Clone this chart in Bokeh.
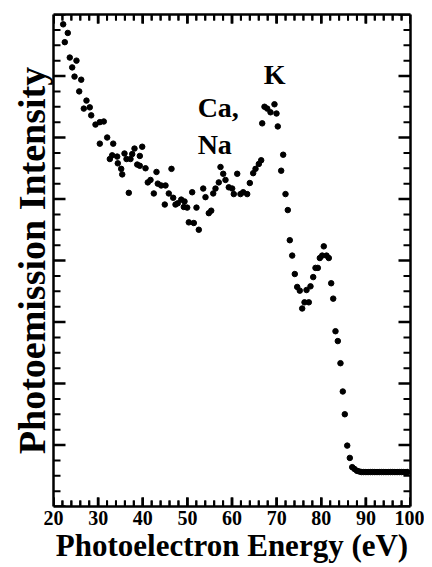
from bokeh.plotting import figure
from bokeh.models import LinearAxis, FixedTicker, Range1d, Label
from bokeh.embed import file_html
from bokeh.resources import INLINE

# Photoelectron energy (eV) and photoemission intensity (arb. units)
energy = [22.17, 23.20, 22.53, 23.65, 25.15, 24.19, 24.71, 26.21, 25.76, 27.39,
          26.79, 28.13, 28.45, 29.41, 30.38, 31.27, 32.03, 30.38, 33.38, 32.62,
          33.15, 34.27, 34.41, 35.17, 35.40, 35.91, 36.36, 37.25, 37.64, 38.15,
          39.88, 39.34, 38.76, 39.34, 40.62, 36.87, 41.13, 41.74, 43.08, 43.37,
          42.48, 44.13, 45.10, 45.84, 46.44, 44.94, 46.82, 47.34, 47.85, 48.62,
          49.36, 49.20, 49.96, 50.32, 51.44, 52.56, 51.08, 52.04, 53.55, 54.06,
          54.80, 55.34, 55.79, 56.30, 57.04, 57.42, 58.03, 58.54, 59.28, 60.04,
          61.17, 60.40, 61.90, 62.51, 63.41, 63.99, 64.75, 65.27, 66.01, 66.54,
          66.77, 67.28, 67.89, 68.63, 69.52, 69.97, 70.26, 71.47, 71.02, 71.99,
          72.50, 72.95, 73.49, 74.07, 74.61, 75.19, 75.73, 76.25, 76.70, 77.21,
          77.59, 78.20, 78.71, 79.23, 79.68, 80.21, 80.57, 81.18, 81.69, 82.23,
          82.68, 83.19, 83.71, 84.31, 84.83, 85.28, 85.82, 86.40, 86.94, 87.45,
          88.0, 88.5, 89.0, 89.5, 90.0, 90.5, 91.0, 91.5, 92.0, 92.5,
          93.0, 93.5, 94.0, 94.5, 95.0, 95.5, 96.0, 96.5, 97.0, 97.5,
          98.0, 98.5, 99.0, 99.3]
intensity = [7.84, 7.70, 7.55, 7.30, 7.25, 7.14, 6.99, 6.94, 6.75, 6.60,
             6.47, 6.49, 6.36, 6.21, 6.25, 6.26, 6.00, 5.90, 5.90, 5.65,
             5.71, 5.69, 5.58, 5.49, 5.40, 5.74, 5.65, 5.65, 5.73, 5.82,
             5.85, 5.70, 5.56, 5.54, 5.50, 5.10, 5.27, 5.31, 5.44, 5.25,
             5.09, 5.22, 5.22, 5.09, 5.49, 4.91, 5.02, 4.91, 4.93, 4.99,
             4.96, 4.87, 4.86, 4.62, 4.61, 4.50, 5.11, 4.86, 5.17, 5.03,
             4.77, 4.81, 5.09, 5.17, 5.27, 5.52, 5.41, 5.31, 5.19, 5.17,
             5.41, 5.08, 5.08, 5.11, 5.08, 5.26, 5.42, 5.49, 5.57, 5.63,
             6.23, 6.50, 6.47, 6.41, 6.54, 6.39, 6.18, 5.72, 5.46, 5.08,
             4.82, 4.33, 4.08, 3.78, 3.57, 3.51, 3.22, 3.32, 3.52, 3.32,
             3.58, 3.73, 3.88, 3.88, 4.04, 4.08, 4.23, 4.08, 4.04, 3.63,
             3.38, 2.85, 2.69, 2.33, 1.87, 1.50, 0.99, 0.79, 0.64, 0.61,
             0.58, 0.57, 0.56, 0.56, 0.56, 0.56, 0.56, 0.56, 0.56, 0.56,
             0.56, 0.56, 0.56, 0.56, 0.56, 0.56, 0.56, 0.56, 0.56, 0.56,
             0.56, 0.56, 0.56, 0.56]

x_major_ticks = [20, 30, 40, 50, 60, 70, 80, 90, 100]
x_tick_labels = ["20", "30", "40", "50", "60", "70", "80", "90", "100"]
x_minor_ticks = [v + d for v in x_major_ticks[:-1] for d in (2, 4, 6, 8)]
y_major_ticks = [0, 1, 2, 3, 4, 5, 6, 7, 8]
y_minor_ticks = [v + d for v in y_major_ticks[:-1] for d in (0.25, 0.5, 0.75)]

peak_labels = ["Ca,", "Na", "K"]
peak_x = [52.3, 52.3, 67.1]
peak_y = [6.48, 5.88, 7.02]

FONT = "Liberation Serif"
X0, X1, Y0, Y1 = 20, 100, 0, 8
FW, FH = 357, 492
px_x = (X1 - X0) / FW   # data units per screen px along x
px_y = (Y1 - Y0) / FH   # data units per screen px along y

p = figure(frame_width=FW, frame_height=FH, output_backend="svg", toolbar_location=None,
           x_range=Range1d(X0, X1), y_range=Range1d(Y0, Y1),
           min_border_left=53, min_border_right=14, min_border_top=14,
           min_border_bottom=61, x_axis_location=None, y_axis_location=None)
p.outline_line_color = None
p.grid.visible = False
p.background_fill_color = "white"


def make_axis(loc, ticker):
    ax = LinearAxis(ticker=ticker)
    ax.major_tick_in = 0
    ax.major_tick_out = 0
    ax.minor_tick_in = 0
    ax.minor_tick_out = 0
    ax.axis_line_width = 2.5
    ax.axis_line_color = "black"
    ax.major_label_standoff = 0
    p.add_layout(ax, loc)
    return ax


xb = make_axis("below", FixedTicker(ticks=x_major_ticks))
xb.major_label_text_font_size = "20px"
xb.major_label_text_font = FONT
xb.major_label_text_font_style = "bold"
xb.major_label_text_color = "black"
xb.major_label_standoff = 4
xb.major_label_overrides = {t: s for t, s in zip(x_major_ticks, x_tick_labels)}
xb.axis_label = "Photoelectron Energy (eV)"
xb.axis_label_text_font = FONT
xb.axis_label_text_font_style = "bold"
xb.axis_label_text_font_size = "31px"
xb.axis_label_text_color = "black"
xb.axis_label_standoff = 0

yl = make_axis("left", FixedTicker(ticks=[]))
yl.axis_label = "Photoemission Intensity"
yl.axis_label_text_font = FONT
yl.axis_label_text_font_style = "bold"
yl.axis_label_text_font_size = "38px"
yl.axis_label_text_color = "black"
yl.axis_label_standoff = 1

make_axis("above", FixedTicker(ticks=[]))
make_axis("right", FixedTicker(ticks=[]))


# inward tick marks on left/right: short dashes centred on the frame edge
# (clipped to the frame so only the inner half shows)
def y_edge_ticks(vals, length_px, width):
    n = len(vals)
    for xe in (X0, X1):
        p.scatter(x=[xe] * n, y=vals, marker="dash", size=2 * length_px,
                  line_color="black", line_width=width)


# inward tick marks on bottom/top: short vertical strokes from the frame edge
def x_edge_ticks(vals, length_px, width_px):
    L = length_px * px_y
    w = width_px * px_x
    xs = [[v, v] for v in vals]
    p.multi_line(xs=xs, ys=[[Y0 + 0.01, Y0 + L] for _ in vals],
                 line_color="black", line_width=width_px)
    p.multi_line(xs=xs, ys=[[Y1 - 0.01, Y1 - L] for _ in vals],
                 line_color="black", line_width=width_px)
    p.quad(left=[v - w / 2 for v in vals], right=[v + w / 2 for v in vals],
           bottom=[Y0 + 0.01] * len(vals), top=[Y0 + L] * len(vals),
           fill_color="black", line_color=None)
    p.quad(left=[v - w / 2 for v in vals], right=[v + w / 2 for v in vals],
           bottom=[Y1 - L] * len(vals), top=[Y1 - 0.01] * len(vals),
           fill_color="black", line_color=None)


x_edge_ticks(x_major_ticks, 9, 2.5)
x_edge_ticks(x_minor_ticks, 6, 2)
y_edge_ticks(y_major_ticks, 12, 2.5)
y_edge_ticks(y_minor_ticks, 7, 2)

p.scatter(energy, intensity, size=5.5, color="black")

for t, xx, yy in zip(peak_labels, peak_x, peak_y):
    p.add_layout(Label(x=xx, y=yy, text=t, text_font=FONT, text_font_style="bold",
                       text_font_size="28px", text_color="black",
                       text_align="left", text_baseline="alphabetic"))

open("out.html", "w").write(file_html(p, INLINE))
